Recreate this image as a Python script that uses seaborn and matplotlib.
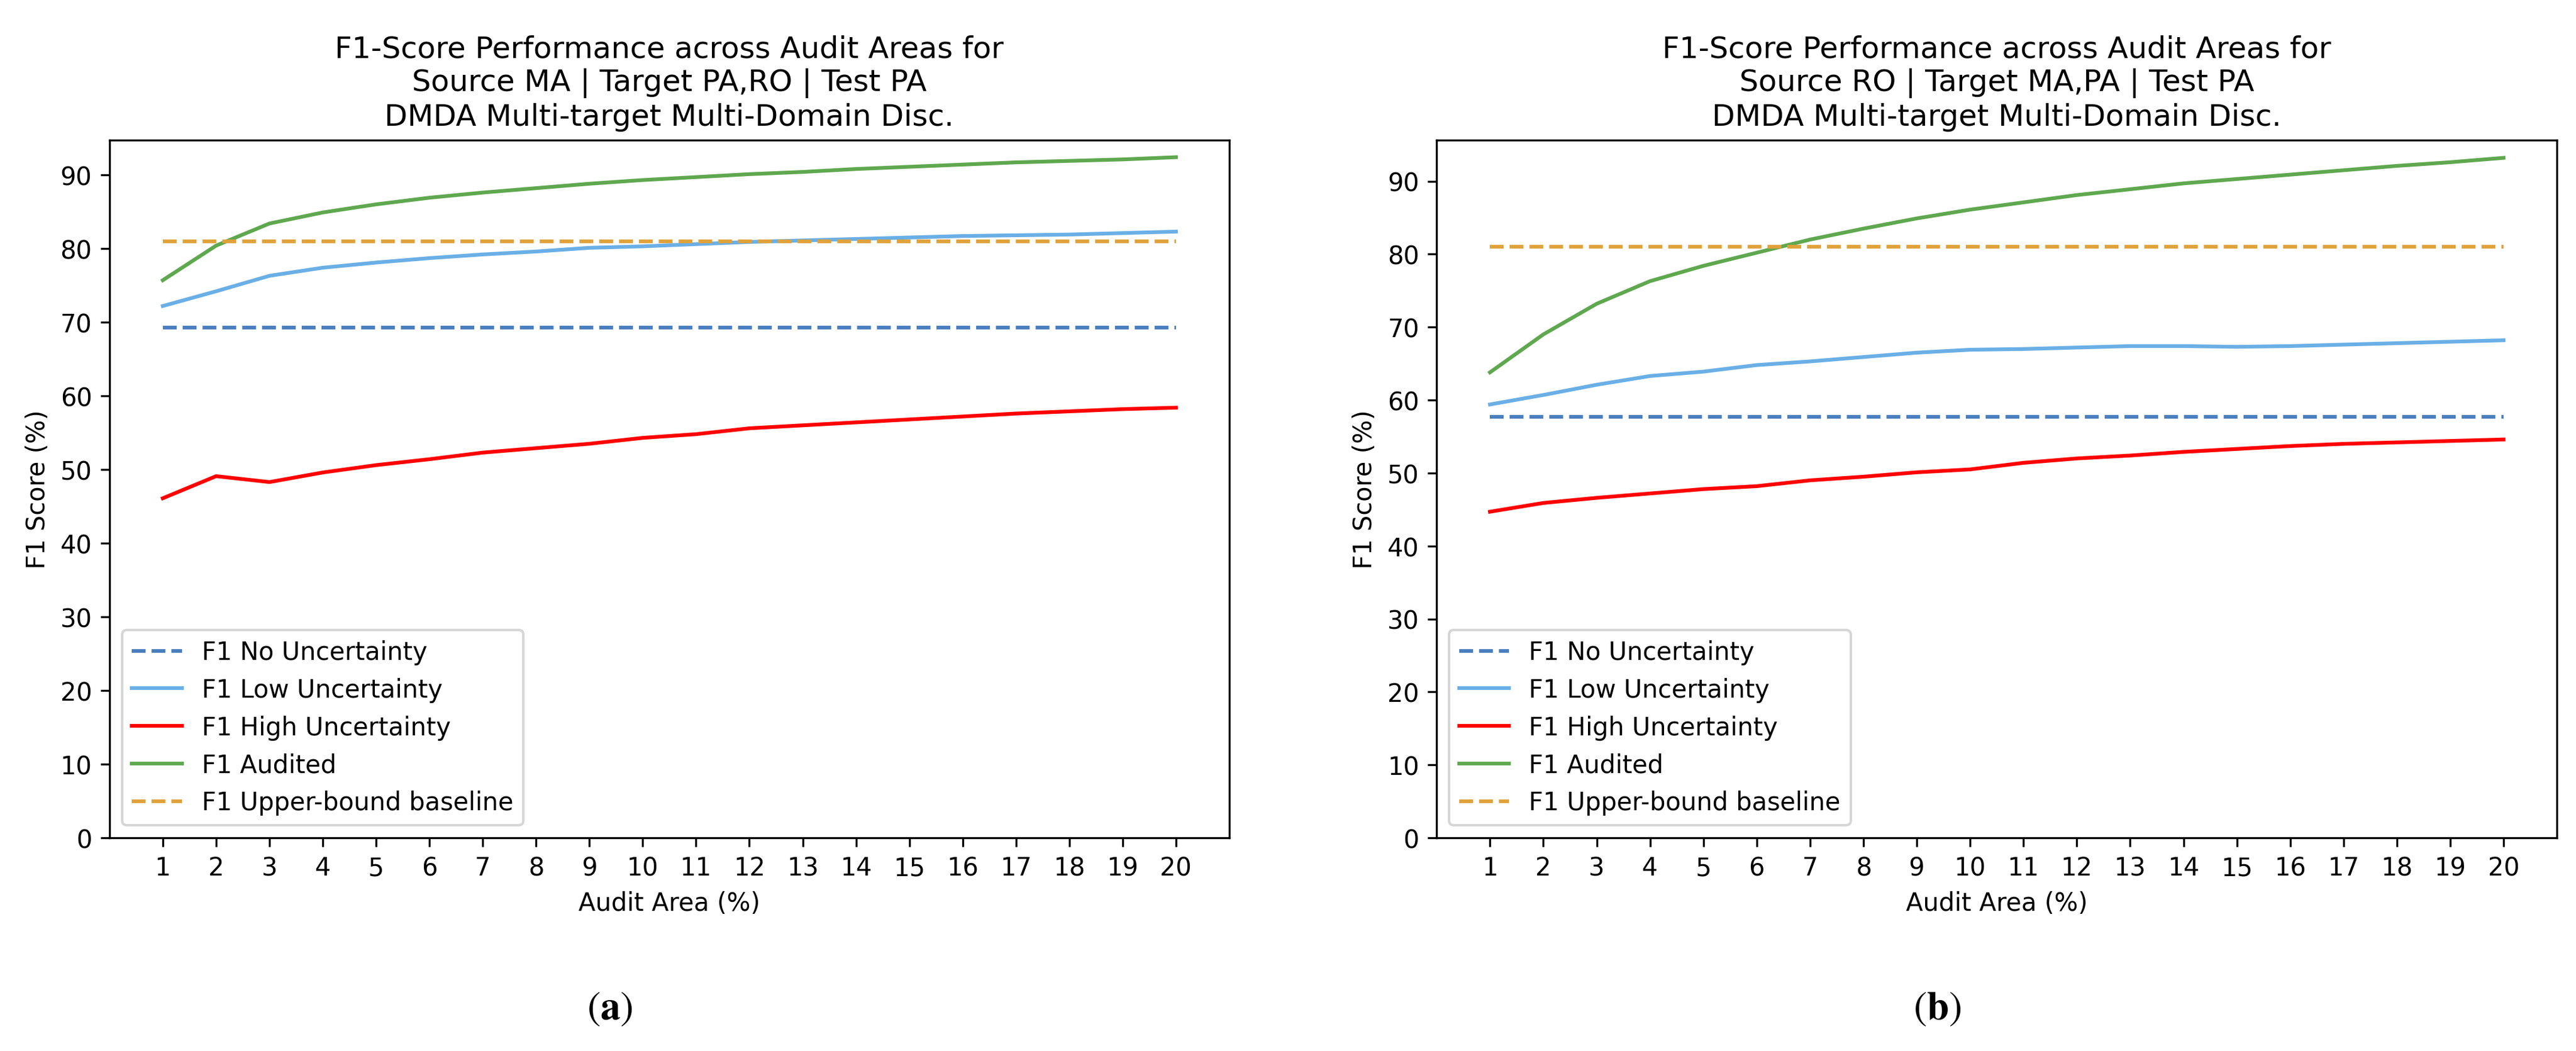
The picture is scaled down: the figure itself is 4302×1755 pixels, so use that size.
import numpy as np
import pandas as pd
import seaborn as sns
import matplotlib.pyplot as plt

# audit area percentages
audit_area = list(range(1, 21))

# panel (a): Source MA | Target PA,RO | Test PA
a_no_unc = 69.3
a_upper = 81.0
a_low = [72.2, 74.2, 76.3, 77.4, 78.1, 78.7, 79.2, 79.6, 80.1, 80.3,
         80.6, 80.9, 81.1, 81.3, 81.5, 81.7, 81.8, 81.9, 82.1, 82.3]
a_high = [46.1, 49.1, 48.3, 49.6, 50.6, 51.4, 52.3, 52.9, 53.5, 54.3,
          54.8, 55.6, 56.0, 56.4, 56.8, 57.2, 57.6, 57.9, 58.2, 58.4]
a_audited = [75.7, 80.4, 83.4, 84.9, 86.0, 86.9, 87.6, 88.2, 88.8, 89.3,
             89.7, 90.1, 90.4, 90.8, 91.1, 91.4, 91.7, 91.9, 92.1, 92.4]

# panel (b): Source RO | Target MA,PA | Test PA
b_no_unc = 57.7
b_upper = 81.0
b_low = [59.4, 60.7, 62.1, 63.3, 63.9, 64.8, 65.3, 65.9, 66.5, 66.9,
         67.0, 67.2, 67.4, 67.4, 67.3, 67.4, 67.6, 67.8, 68.0, 68.2]
b_high = [44.7, 45.9, 46.6, 47.2, 47.8, 48.2, 49.0, 49.5, 50.1, 50.5,
          51.4, 52.0, 52.4, 52.9, 53.3, 53.7, 54.0, 54.2, 54.4, 54.6]
b_audited = [63.8, 69.0, 73.2, 76.3, 78.4, 80.2, 82.0, 83.5, 84.9, 86.1,
             87.1, 88.1, 88.9, 89.7, 90.3, 90.9, 91.5, 92.1, 92.6, 93.2]

titles = [
    "F1-Score Performance across Audit Areas for\nSource MA | Target PA,RO | Test PA\nDMDA Multi-target Multi-Domain Disc.",
    "F1-Score Performance across Audit Areas for\nSource RO | Target MA,PA | Test PA\nDMDA Multi-target Multi-Domain Disc.",
]
captions = [r"$(\mathbf{a})$", r"$(\mathbf{b})$"]

plt.rcParams['mathtext.fontset'] = 'stix'

fig = plt.figure(figsize=(14.34, 5.853), dpi=300)
axes = [fig.add_axes([0.0425, 0.2027, 0.4347, 0.6635]),
        fig.add_axes([0.5577, 0.2027, 0.4349, 0.6635])]


def draw_panel(ax, no_unc, low, high, audited, upper, title):
    n = len(audit_area)
    sns.lineplot(x=audit_area, y=[no_unc] * n, ax=ax, color='#4a7fbf',
                 linestyle='--', label='F1 No Uncertainty')
    sns.lineplot(x=audit_area, y=low, ax=ax, color='#6aafe6',
                 label='F1 Low Uncertainty')
    sns.lineplot(x=audit_area, y=high, ax=ax, color='red',
                 label='F1 High Uncertainty')
    sns.lineplot(x=audit_area, y=audited, ax=ax, color='#5fa84f',
                 label='F1 Audited')
    sns.lineplot(x=audit_area, y=[upper] * n, ax=ax, color='#e0a23a',
                 linestyle='--', label='F1 Upper-bound baseline')
    ax.set_xlim(0, 21)
    ax.set_ylim(bottom=0)
    ax.set_xticks(audit_area)
    ax.set_yticks(range(0, 100, 10))
    ax.set_title(title, fontsize=12)
    ax.set_xlabel('Audit Area (%)')
    ax.set_ylabel('F1 Score (%)')
    ax.legend(loc='lower left')


draw_panel(axes[0], a_no_unc, a_low, a_high, a_audited, a_upper, titles[0])
draw_panel(axes[1], b_no_unc, b_low, b_high, b_audited, b_upper, titles[1])

fig.text(0.2366, 0.0416, captions[0], ha='center', va='center', fontsize=16)
fig.text(0.7520, 0.0416, captions[1], ha='center', va='center', fontsize=16)

fig.savefig('out.png', dpi=300)
